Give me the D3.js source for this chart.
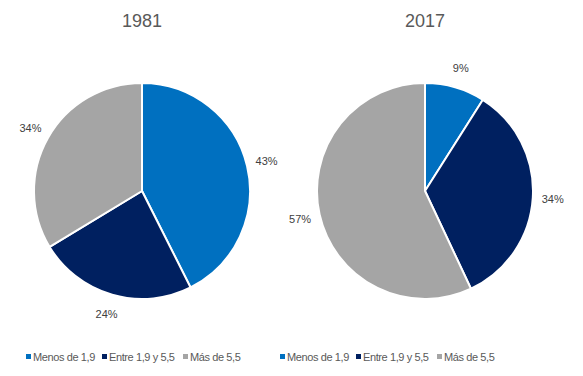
<!DOCTYPE html>
<html>
<head>
<meta charset="utf-8">
<script src="https://cdn.jsdelivr.net/npm/d3@7"></script>
<style>
  body { margin: 0; background: #fff; }
  text { font-family: "Liberation Sans", Arial, sans-serif; }
</style>
</head>
<body>
<div id="viz-container"></div>
<script>
let categories = ["Menos de 1,9", "Entre 1,9 y 5,5", "Más de 5,5"];
let years = ["1981", "2017"];
let values1981 = [43, 24, 34];
let values2017 = [9, 34, 57];
let colors = ["#0070C0", "#002060", "#A5A5A5"];

let viz = d3.select("#viz-container")
    .append("svg")
        .attr("width", 583)
        .attr("height", 376)
;

let pie = d3.pie().sort(null).value(d => d.v);
let arc = d3.arc().innerRadius(0).outerRadius(108);
let labelArc = d3.arc().innerRadius(128).outerRadius(128);
let color = d3.scaleOrdinal().domain(categories).range(colors);

// one chart per year
let charts = [
    {year: years[0], values: values1981, cx: 142, lx: 26},
    {year: years[1], values: values2017, cx: 425, lx: 280}
];

charts.forEach(c => {
    let data = categories.map((k, i) => ({k: k, v: c.values[i]}));
    let total = d3.sum(c.values);

    viz.append("text")
        .attr("x", c.cx)
        .attr("y", 27)
        .attr("text-anchor", "middle")
        .attr("font-size", 18)
        .attr("fill", "#595959")
        .text(c.year);

    let g = viz.append("g").attr("transform", `translate(${c.cx},191)`);

    g.selectAll(".slice").data(pie(data)).enter()
        .append("path")
            .attr("class", "slice")
            .attr("d", arc)
            .attr("fill", d => color(d.data.k))
            .attr("stroke", "#fff")
            .attr("stroke-width", 2)
    ;

    g.selectAll(".lbl").data(pie(data)).enter()
        .append("text")
            .attr("class", "lbl")
            .attr("transform", d => `translate(${labelArc.centroid(d)})`)
            .attr("text-anchor", "middle")
            .attr("dy", "0.35em")
            .attr("font-size", 11)
            .attr("fill", "#404040")
            .text(d => d.data.v + "%")
    ;

    // legend
    let lg = viz.append("g").attr("transform", `translate(${c.lx},357)`);
    let offs = [0, 76, 157];
    let items = lg.selectAll(".leg").data(categories).enter()
        .append("g")
            .attr("transform", (d, i) => `translate(${offs[i]},0)`);
    items.append("rect")
        .attr("x", 0).attr("y", -3)
        .attr("width", 5).attr("height", 5)
        .attr("fill", d => color(d));
    items.append("text")
        .attr("x", 7)
        .attr("dy", "0.35em")
        .attr("font-size", 11)
        .attr("letter-spacing", -0.4)
        .attr("fill", "#595959")
        .text(d => d);
});
</script>
</body>
</html>
